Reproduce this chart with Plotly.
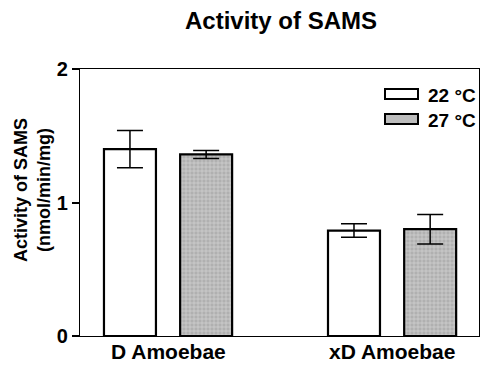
import plotly.graph_objects as go

categories = ["D Amoebae", "xD Amoebae"]
series_names = ["22 °C", "27 °C"]
values_22 = [1.40, 0.79]
errors_22 = [0.14, 0.05]
values_27 = [1.36, 0.80]
errors_27 = [0.03, 0.11]
y_ticks = [0, 1, 2]

FONT = "Liberation Sans, Arial, Helvetica, sans-serif"
W, H = 481, 366
L, R, T, B = 80, 2, 69, 30
pw, ph = W - L - R, H - T - B

def px_x(x):
    return (x - L) / pw

def px_y(y):
    return (H - B - y) / ph

fig = go.Figure()
fig.add_trace(go.Bar(
    x=categories, y=values_22, name=series_names[0],
    width=0.232, offset=-0.286,
    marker=dict(color="white", line=dict(color="black", width=2.2)),
    error_y=dict(type="data", array=errors_22, color="black", thickness=1.5, width=13),
    showlegend=False,
))
fig.add_trace(go.Bar(
    x=categories, y=values_27, name=series_names[1],
    width=0.232, offset=0.054,
    marker=dict(color="#bdbdbd", line=dict(color="black", width=2.2),
                pattern=dict(shape="+", fgcolor="#efefef", bgcolor="#b0b0b0", size=4, solidity=0.35)),
    error_y=dict(type="data", array=errors_27, color="black", thickness=1.5, width=13),
    showlegend=False,
))

# category labels placed under the axis
for c in categories:
    fig.add_annotation(xref="x", yref="paper", x=c, y=px_y(351),
                       xanchor="center", yanchor="middle", showarrow=False,
                       text="<b>" + c + "</b>", font=dict(family=FONT, size=21, color="black"))

# custom legend
legend_rows = [95, 120]
fills = ["white", "#bdbdbd"]
for name, yc, fc in zip(series_names, legend_rows, fills):
    fig.add_shape(type="rect", xref="paper", yref="paper",
                  x0=px_x(385), x1=px_x(418), y0=px_y(yc + 4), y1=px_y(yc - 6),
                  fillcolor=fc, line=dict(color="black", width=2))
    fig.add_annotation(xref="paper", yref="paper", x=px_x(426), y=px_y(yc),
                       xanchor="left", yanchor="middle", showarrow=False,
                       text="<b>" + name + "</b>", font=dict(family=FONT, size=19, color="black"))

fig.add_annotation(xref="paper", yref="paper", x=px_x(32), y=px_y(190),
                   xanchor="center", yanchor="middle", showarrow=False, textangle=-90,
                   text="<b>Activity of SAMS<br>(nmol/min/mg)</b>",
                   font=dict(family=FONT, size=18, color="black"))

fig.update_layout(
    width=W, height=H,
    margin=dict(l=L, r=R, t=T, b=B, pad=0, autoexpand=False),
    paper_bgcolor="white", plot_bgcolor="white",
    barmode="overlay",
    title=dict(text="<b>Activity of SAMS</b>", x=281 / W, xanchor="center",
               y=1 - 21 / H, yanchor="middle",
               font=dict(family=FONT, size=24, color="black")),
    font=dict(family=FONT, color="black"),
)
fig.update_xaxes(range=[-0.393, 1.388], showgrid=False, showline=True, linecolor="black",
                 linewidth=1.2, mirror=True, ticks="", automargin=False,
                 showticklabels=False, categoryorder="array", categoryarray=categories)
fig.update_yaxes(range=[0, 2], showgrid=False, showline=True, linecolor="black",
                 linewidth=1.2, mirror=True, ticks="outside", ticklen=7, tickwidth=1.5,
                 tickcolor="black", zeroline=False, automargin=False,
                 tickvals=y_ticks, ticktext=["<b>%d</b>" % v for v in y_ticks],
                 tickfont=dict(family=FONT, size=20, color="black"))

fig.write_html("out.html")
